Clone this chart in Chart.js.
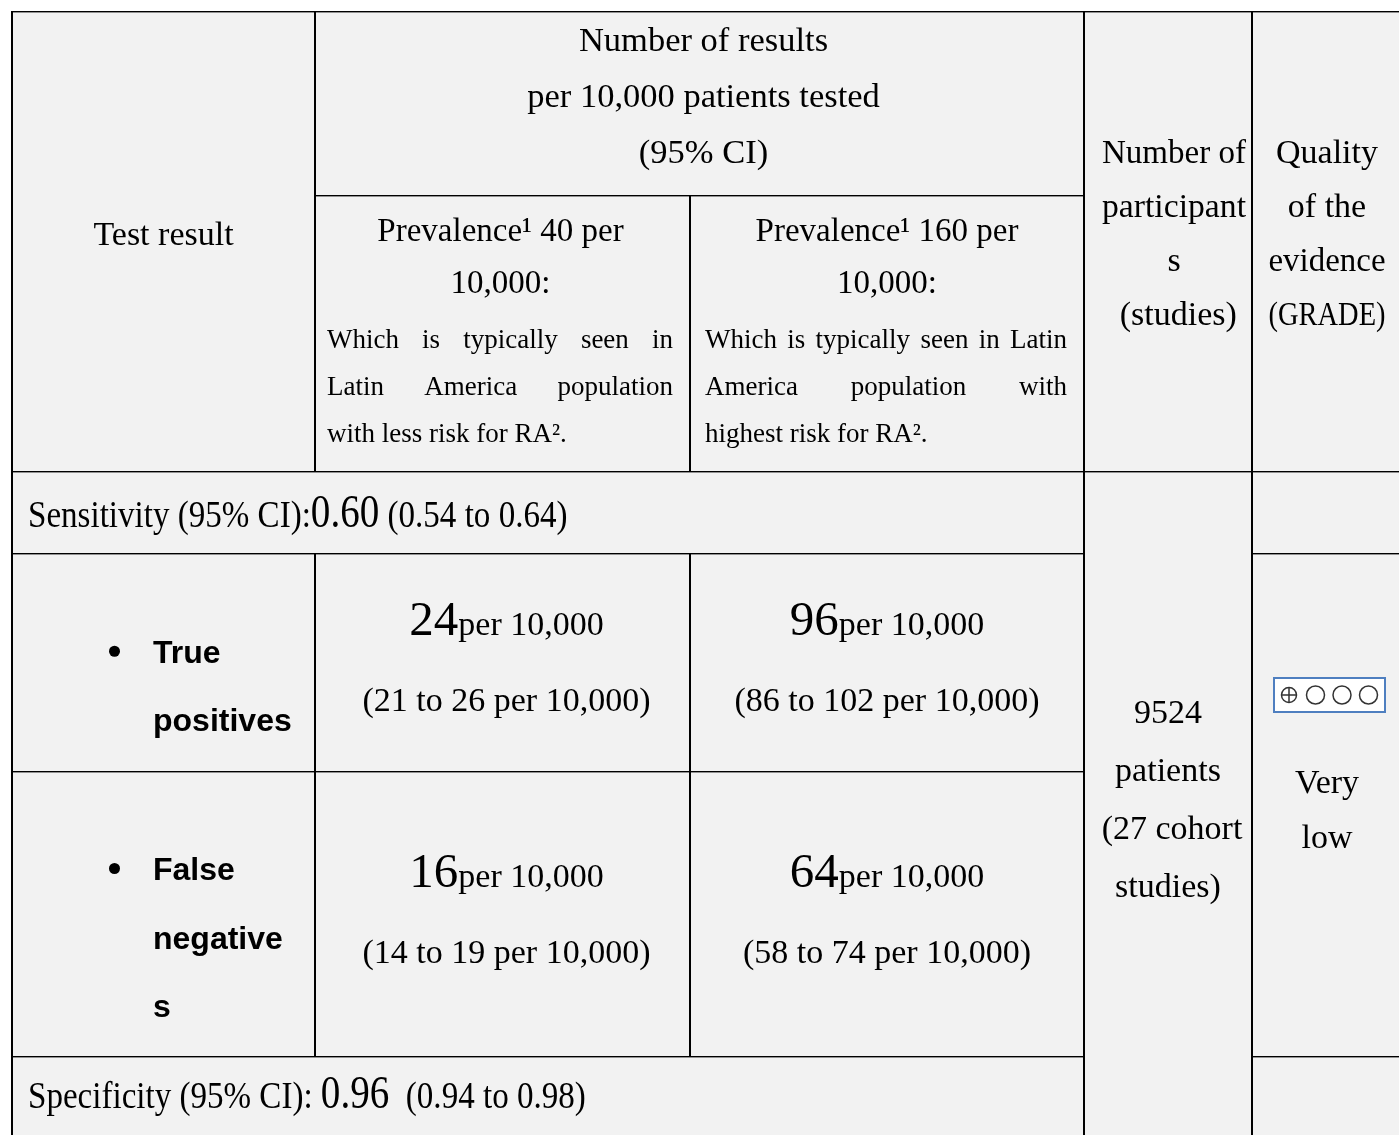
<!DOCTYPE html>
<html>
<head>
<meta charset="utf-8">
<title>Summary of findings</title>
<script src="https://cdn.jsdelivr.net/npm/chart.js@4.4.1/dist/chart.umd.min.js"></script>
<style>
    html, body { margin: 0; padding: 0; background: #fff; overflow: hidden; }
    #wrap { position: relative; width: 1399px; height: 1135px; }
</style>
</head>
<body>
<div id="wrap"><canvas id="summary"></canvas></div>
<script>
// summary of findings table, values
const headerLines = ['Number of results', 'per 10,000 patients tested', '(95% CI)'];
const testHeader = 'Test result';
const prevalence = [40, 160];
const populationNotes = [
    ['Which is typically seen in', 'Latin America population', 'with less risk for RA².'],
    ['Which is typically seen in Latin', 'America population with', 'highest risk for RA².']
];
const participantsHeader = ['Number of', 'participant', 's', ' (studies)'];
const qualityHeader = ['Quality', 'of the', 'evidence', '(GRADE)'];
const outcomeLines = [['True', 'positives'], ['False', 'negative', 's']];
const perTenThousand = [[24, 96], [16, 64]];   // rows: TP, FN / cols: prevalence
const ciLow = [[21, 86], [14, 58]];
const ciHigh = [[26, 102], [19, 74]];
const sensitivity = [0.60, 0.54, 0.64];        // estimate, low, high
const specificity = [0.96, 0.94, 0.98];
const participants = 9524;
const cohortStudies = 27;
const gradeScore = 1;                          // of 4
const gradeLabel = ['Very', 'low'];

// table grid (in scale units, 1 unit = 1px)
const colEdge = [12, 315, 690, 1084, 1252, 1402];
const rowEdge = [12, 196, 472, 554, 772, 1057, 1135];

const SERIF = "'Liberation Serif', 'Times New Roman', serif";
const SANS = "'Liberation Sans', Arial, sans-serif";

const tablePlugin = {
    id: 'sofTable',
    afterDraw(chart) {
        const ctx = chart.ctx;
        const X = v => chart.scales.x.getPixelForValue(v);
        const Y = v => chart.scales.y.getPixelForValue(v);
        const C = colEdge, R = rowEdge;

        ctx.save();
        // background
        ctx.fillStyle = '#ffffff';
        ctx.fillRect(0, 0, chart.width, chart.height);
        ctx.fillStyle = '#f2f2f2';
        ctx.fillRect(X(C[0]), Y(R[0]), X(C[5]) - X(C[0]), Y(R[6]) - Y(R[0]));

        // grid
        ctx.fillStyle = '#000';
        const hLine = (y, x1, x2) => ctx.fillRect(X(x1) - 1, Math.round(Y(y)) - 1, X(x2) - X(x1) + 2, 1.4);
        const vLine = (x, y1, y2) => ctx.fillRect(Math.round(X(x)) - 1, Y(y1), 2, Y(y2) - Y(y1));
        hLine(R[0], C[0], C[5]); hLine(R[1], C[1], C[3]); hLine(R[2], C[0], C[5]);
        hLine(R[3], C[0], C[3]); hLine(R[3], C[4], C[5]); hLine(R[4], C[0], C[3]);
        hLine(R[5], C[0], C[3]); hLine(R[5], C[4], C[5]);
        vLine(C[0], R[0], R[6]); vLine(C[1], R[0], R[2]); vLine(C[1], R[3], R[5]);
        vLine(C[2], R[1], R[2]); vLine(C[2], R[3], R[5]);
        vLine(C[3], R[0], R[6]); vLine(C[4], R[0], R[6]);

        // text helpers
        ctx.textBaseline = 'alphabetic';
        const text = (s, x, y, font, align, maxW) => {
            ctx.font = font;
            ctx.textAlign = align || 'center';
            if (maxW) ctx.fillText(s, X(x), Y(y), maxW);
            else ctx.fillText(s, X(x), Y(y));
        };
        // run of differently sized pieces, optionally squeezed horizontally
        const runWidth = segs => segs.reduce((w, s) => {
            ctx.font = s.font;
            return w + ctx.measureText(s.t).width * (s.sx || 1);
        }, 0);
        const drawRun = (segs, x, y, align) => {
            let px = X(x);
            if (align === 'center') px -= runWidth(segs) / 2;
            ctx.textAlign = 'left';
            segs.forEach(s => {
                ctx.font = s.font;
                const w = ctx.measureText(s.t).width * (s.sx || 1);
                ctx.save();
                ctx.translate(px, Y(y));
                ctx.scale(s.sx || 1, 1);
                ctx.fillText(s.t, 0, 0);
                ctx.restore();
                px += w;
            });
        };
        const justify = (line, x1, x2, y, font, last) => {
            ctx.font = font;
            ctx.textAlign = 'left';
            if (last) { ctx.fillText(line, X(x1), Y(y)); return; }
            const words = line.split(' ');
            const widths = words.map(w => ctx.measureText(w).width);
            const gap = (X(x2) - X(x1) - widths.reduce((a, b) => a + b, 0)) / (words.length - 1);
            let px = X(x1);
            words.forEach((w, i) => { ctx.fillText(w, px, Y(y)); px += widths[i] + gap; });
        };

        const f34 = `34px ${SERIF}`;
        // header
        headerLines.forEach((l, i) => text(l, (C[1] + C[3]) / 2 + 4, 51 + i * 56, `34.5px ${SERIF}`));
        text(testHeader, (C[0] + C[1]) / 2, 245, f34);
        prevalence.forEach((p, i) => {
            const cx = (C[1 + i] + C[2 + i]) / 2 + (i === 0 ? -2 : 0);
            text(`Prevalence¹ ${p} per`, cx, 241, `33px ${SERIF}`);
            text('10,000:', cx, 293, `33px ${SERIF}`);
            const x1 = C[1 + i] + (i === 0 ? 12 : 15), x2 = C[2 + i] - 17;
            populationNotes[i].forEach((l, j) =>
                justify(l, x1, x2, 348 + j * 47, `27px ${SERIF}`, j === populationNotes[i].length - 1));
        });
        participantsHeader.forEach((l, i) => text(l, (C[3] + C[4]) / 2 + 6, 163 + i * 54, f34, 'center', 144));
        qualityHeader.forEach((l, i) => text(l, (C[4] + C[5]) / 2, 163 + i * 54, f34, 'center', 117));

        // sensitivity / specificity rows
        const big = `46px ${SERIF}`, small = `38px ${SERIF}`;
        drawRun([
            { t: 'Sensitivity (95% CI):', font: small, sx: 0.87 },
            { t: sensitivity[0].toFixed(2), font: big, sx: 0.85 },
            { t: ` (${sensitivity[1].toFixed(2)} to ${sensitivity[2].toFixed(2)})`, font: small, sx: 0.87 }
        ], C[0] + 16, 527);
        drawRun([
            { t: 'Specificity (95% CI): ', font: small, sx: 0.87 },
            { t: specificity[0].toFixed(2), font: big, sx: 0.85 },
            { t: `  (${specificity[1].toFixed(2)} to ${specificity[2].toFixed(2)})`, font: small, sx: 0.87 }
        ], C[0] + 16, 1108);

        // outcome rows
        const numCenter = [(C[1] + C[2]) / 2 + 4, (C[2] + C[3]) / 2];
        outcomeLines.forEach((lines, r) => {
            const mid = (R[3 + r] + R[4 + r]) / 2;
            const first = mid + 34 - (lines.length - 1) * 34.25;
            ctx.beginPath();
            ctx.arc(X(114.5), Y(first - 11.5), 5.5, 0, Math.PI * 2);
            ctx.fill();
            lines.forEach((l, j) => text(l, 153, first + j * 68.5, `bold 32px ${SANS}`, 'left'));
            perTenThousand[r].forEach((v, c) => {
                drawRun([
                    { t: String(v), font: `49px ${SERIF}` },
                    { t: 'per 10,000', font: f34 }
                ], numCenter[c], mid - 28, 'center');
                text(`(${ciLow[r][c]} to ${ciHigh[r][c]} per 10,000)`, numCenter[c], mid + 48, `34px ${SERIF}`);
            });
        });

        // participants
        const cx4 = (C[3] + C[4]) / 2;
        [String(participants), 'patients', `(${cohortStudies} cohort`, 'studies)'].forEach((l, i) =>
            text(l, cx4 + (i === 2 ? 4 : 0), 723 + i * 58, f34));

        // GRADE symbol box
        const bx1 = 1274, bx2 = 1385, by1 = 678, by2 = 712;
        ctx.fillStyle = '#fff';
        ctx.fillRect(X(bx1), Y(by1), X(bx2) - X(bx1), Y(by2) - Y(by1));
        ctx.strokeStyle = '#4f7fc0';
        ctx.lineWidth = 2;
        ctx.strokeRect(X(bx1), Y(by1), X(bx2) - X(bx1), Y(by2) - Y(by1));
        ctx.strokeStyle = '#333';
        ctx.lineWidth = 1.5;
        const cy = Y((by1 + by2) / 2);
        for (let i = 0; i < 4; i++) {
            const ccx = X(bx1 + 15 + i * 26.5);
            const r = i < gradeScore ? 7.5 : 9;
            ctx.beginPath();
            ctx.arc(ccx, cy, r, 0, Math.PI * 2);
            ctx.stroke();
            if (i < gradeScore) {
                ctx.beginPath();
                ctx.moveTo(ccx - r, cy); ctx.lineTo(ccx + r, cy);
                ctx.moveTo(ccx, cy - r); ctx.lineTo(ccx, cy + r);
                ctx.stroke();
            }
        }
        ctx.fillStyle = '#000';
        gradeLabel.forEach((l, i) => text(l, (C[4] + C[5]) / 2, 793 + i * 55, f34));

        ctx.restore();
    }
};

new Chart(document.getElementById('summary'), {
    type: 'scatter',
    data: { datasets: [{ data: [] }] },
    options: {
        responsive: true,
        maintainAspectRatio: false,
        animation: false,
        events: [],
        layout: { padding: 0 },
        plugins: { legend: { display: false }, tooltip: { enabled: false } },
        scales: {
            x: { type: 'linear', min: 0, max: 1399, display: false },
            y: { type: 'linear', min: 0, max: 1135, reverse: true, display: false }
        }
    },
    plugins: [tablePlugin]
});
</script>
</body>
</html>
